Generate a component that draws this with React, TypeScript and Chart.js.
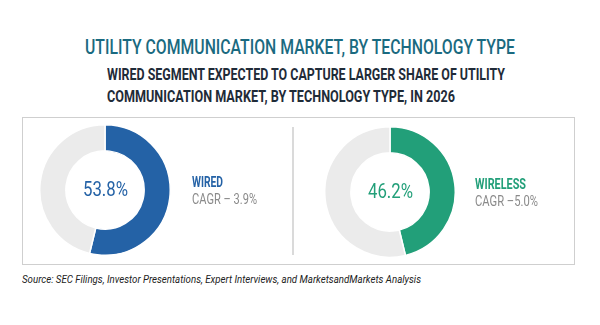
import React, { useEffect, useLayoutEffect, useRef } from "react";
import { Chart, registerables } from "chart.js";

Chart.register(...registerables);

const TITLE = "UTILITY COMMUNICATION MARKET, BY TECHNOLOGY TYPE";
const SUBTITLE_1 = "WIRED SEGMENT EXPECTED TO CAPTURE LARGER SHARE OF UTILITY";
const SUBTITLE_2 = "COMMUNICATION MARKET, BY TECHNOLOGY TYPE, IN 2026";
const SOURCE = "Source: SEC Filings, Investor Presentations, Expert Interviews, and MarketsandMarkets Analysis";

const segments = ["WIRED", "WIRELESS"];
const shares = [53.8, 46.2];
const cagrLabels = ["CAGR \u2013 3.9%", "CAGR \u20135.0%"];
const colors = ["#2462a6", "#229f79"];
const REST_COLOR = "#ebebeb";

const FONT = 'Roboto, "Liberation Sans", sans-serif';

function FitText({
  text, left, top, width, size, color, weight = "normal", italic = false, center = false,
}: {
  text: string; left: number; top: number; width: number; size: number; color: string;
  weight?: string; italic?: boolean; center?: boolean;
}) {
  const ref = useRef<HTMLSpanElement | null>(null);
  useLayoutEffect(() => {
    const el = ref.current;
    if (!el) return;
    el.style.transform = "none";
    const w = el.getBoundingClientRect().width;
    if (w > 0) el.style.transform = `scaleX(${width / w})`;
  }, [text, width, size]);
  return (
    <span
      ref={ref}
      style={{
        position: "absolute",
        left: center ? left - width / 2 : left,
        top,
        fontFamily: FONT,
        fontSize: size,
        fontWeight: weight as any,
        fontStyle: italic ? "italic" : "normal",
        color,
        lineHeight: `${Math.round(size * 1.2)}px`,
        whiteSpace: "nowrap",
        transformOrigin: "left top",
        display: "inline-block",
      }}
    >
      {text}
    </span>
  );
}

function Donut({ value, color }: { value: number; color: string }) {
  const ref = useRef<HTMLCanvasElement | null>(null);
  useEffect(() => {
    if (!ref.current) return;
    const chart = new Chart(ref.current, {
      type: "doughnut",
      data: {
        labels: ["share", "rest"],
        datasets: [
          {
            data: [value, 100 - value],
            backgroundColor: [color, REST_COLOR],
            borderColor: "#ffffff",
            borderWidth: 1.5,
            hoverOffset: 0,
          },
        ],
      },
      options: {
        animation: false,
        responsive: false,
        cutout: "60%",
        plugins: { legend: { display: false }, tooltip: { enabled: false } },
        events: [],
      },
    });
    return () => chart.destroy();
  }, [value, color]);
  return <canvas ref={ref} width={132} height={132} style={{ width: 132, height: 132, display: "block" }} />;
}

export default function App() {
  const centers = [
    { cx: 105, cy: 190, lx: 192, segW: 31, cagrW: 65 },
    { cx: 390, cy: 192, lx: 475, segW: 51, cagrW: 63 },
  ];
  return (
    <div style={{ position: "fixed", left: 0, top: 0, width: 600, height: 325, background: "#fff", overflow: "hidden" }}>
      <FitText text={TITLE} left={85} top={35} width={430} size={20} color="#1a6a80" weight="500" />
      <FitText text={SUBTITLE_1} left={107} top={65} width={398} size={16} color="#1f2b38" weight="bold" />
      <FitText text={SUBTITLE_2} left={107} top={87} width={348} size={16} color="#1f2b38" weight="bold" />
      <div style={{ position: "absolute", left: 22, top: 117, width: 551, height: 146, border: "1px solid #cfcfcf" }} />
      <div style={{ position: "absolute", left: 292, top: 127, width: 2, height: 128, background: "#dadada" }} />
      {segments.map((seg, i) => (
        <React.Fragment key={seg}>
          <div style={{ position: "absolute", left: centers[i].cx - 66, top: centers[i].cy - 66 }}>
            <Donut value={shares[i]} color={colors[i]} />
          </div>
          <FitText text={`${shares[i].toFixed(1)}%`} left={centers[i].cx} center top={centers[i].cy - 13} width={45} size={21} color={colors[i]} />
          <FitText text={seg} left={centers[i].lx} top={centers[i].cy - 16} width={centers[i].segW} size={14} color={colors[i]} weight="bold" />
          <FitText text={cagrLabels[i]} left={centers[i].lx} top={centers[i].cy + 1} width={centers[i].cagrW} size={14} color="#8a8a8a" />
        </React.Fragment>
      ))}
      <FitText text={SOURCE} left={22} top={273} width={399} size={11} color="#222" italic />
    </div>
  );
}
